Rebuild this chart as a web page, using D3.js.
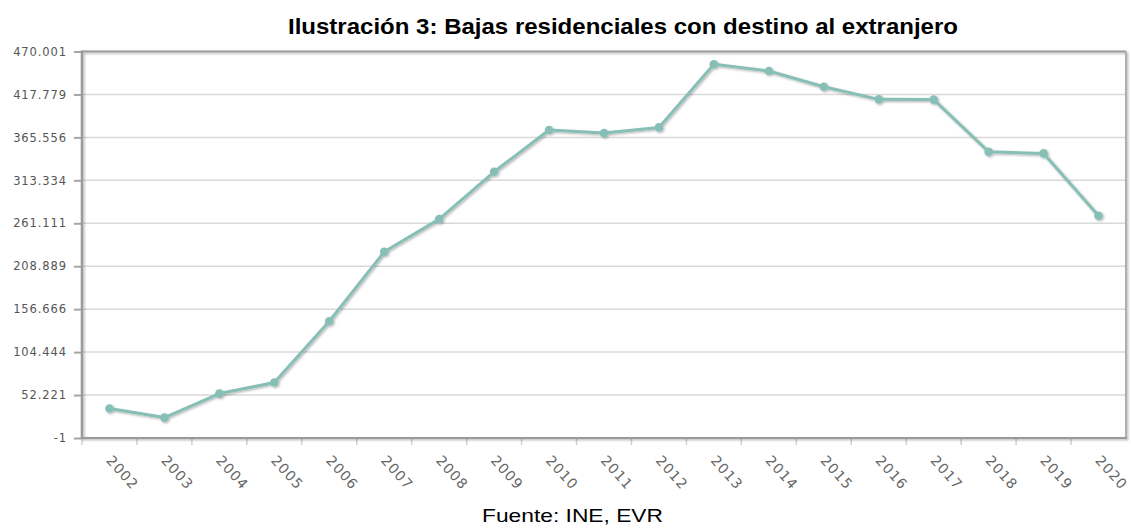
<!DOCTYPE html>
<html>
<head>
<meta charset="utf-8">
<script src="https://cdn.jsdelivr.net/npm/d3@7"></script>
<style>
  body { margin: 0; background: #fff; }
  svg { display: block; }
</style>
</head>
<body>
<svg id="chart" width="1131" height="528"></svg>
<script>
// data
const years = ["2002","2003","2004","2005","2006","2007","2008","2009","2010","2011",
               "2012","2013","2014","2015","2016","2017","2018","2019","2020"];
const bajas = [35800, 24800, 54000, 67400, 142000, 226400, 266200, 323700, 374500, 370800,
               377700, 454400, 446300, 427200, 411800, 411500, 348100, 346100, 270200];
const yMin = -1, yMax = 470001;
const yTicks = d3.range(10).map(i => yMin + i * (yMax - yMin) / 9);

const title = "Ilustración 3: Bajas residenciales con destino al extranjero";
const fuente = "Fuente: INE, EVR";

const W = 1131, H = 528;
const m = {top: 51.5, right: 5, bottom: 90, left: 82};
const iw = W - m.left - m.right, ih = H - m.top - m.bottom;

const svg = d3.select("#chart");
const defs = svg.append("defs");
const f = defs.append("filter").attr("id", "sh").attr("x", "-50%").attr("y", "-50%").attr("width", "200%").attr("height", "200%");
f.append("feDropShadow").attr("dx", 1.2).attr("dy", 1.2).attr("stdDeviation", 1).attr("flood-color", "#000").attr("flood-opacity", 0.3);

const x = d3.scaleBand().domain(years).range([0, iw]);
const y = d3.scaleLinear().domain([yMin, yMax]).range([ih, 0]);
const loc = d3.formatLocale({decimal: ",", thousands: ".", grouping: [3], currency: ["", "€"]});

svg.append("text")
  .attr("x", 288).attr("y", 34)
  .attr("textLength", 670).attr("lengthAdjust", "spacingAndGlyphs")
  .style("font-family", "'Liberation Sans', Arial, sans-serif")
  .style("font-weight", "bold").style("font-size", "22px").style("fill", "#000")
  .text(title);

const g = svg.append("g").attr("transform", `translate(${m.left},${m.top})`);

// grid
g.append("g").selectAll("line").data(yTicks.slice(1, -1)).join("line")
  .attr("x1", 0).attr("x2", iw)
  .attr("y1", d => y(d)).attr("y2", d => y(d))
  .attr("stroke", "#d9d9d9").attr("stroke-width", 1.5);

// y axis
const yAxis = g.append("g")
  .call(d3.axisLeft(y).tickValues(yTicks).tickSize(8).tickPadding(7)
    .tickFormat(d => loc.format(",.0f")(Math.round(d)).replace("−", "-")));
yAxis.select(".domain").remove();
yAxis.selectAll(".tick line").attr("stroke", "#a6a6a6").attr("stroke-width", 2);
yAxis.selectAll(".tick text")
  .style("font-family", "'DejaVu Sans', Verdana, sans-serif").style("font-size", "11.5px")
  .style("letter-spacing", "0.9px").style("fill", "#555");

// x axis
const xAxis = g.append("g").attr("transform", `translate(0,${ih})`)
  .call(d3.axisBottom(x).tickSize(0).tickFormat(d => d));
xAxis.select(".domain").remove();
xAxis.selectAll(".tick text")
  .attr("text-anchor", "start")
  .attr("transform", "translate(-4,23) rotate(48)")
  .attr("y", 0).attr("dy", 0)
  .style("font-family", "'DejaVu Sans', Verdana, sans-serif").style("font-size", "14px")
  .style("letter-spacing", "1.1px").style("fill", "#666");

// ticks at band edges
g.append("g").selectAll("line").data(years).join("line")
  .attr("x1", d => x(d)).attr("x2", d => x(d))
  .attr("y1", ih).attr("y2", ih + 7)
  .attr("stroke", "#cfcfcf").attr("stroke-width", 1.5);

// frame
const frame = g.append("g").attr("filter", "url(#sh)");
frame.append("line").attr("x1", 0).attr("x2", iw).attr("y1", 0).attr("y2", 0).attr("stroke", "#9a9a9a").attr("stroke-width", 2);
frame.append("line").attr("x1", iw).attr("x2", iw).attr("y1", 0).attr("y2", ih).attr("stroke", "#b0b0b0").attr("stroke-width", 2);
frame.append("line").attr("x1", 0).attr("x2", iw + 1).attr("y1", ih).attr("y2", ih).attr("stroke", "#9a9a9a").attr("stroke-width", 2);
frame.append("line").attr("x1", 0).attr("x2", 0).attr("y1", -1).attr("y2", ih + 1).attr("stroke", "#9a9a9a").attr("stroke-width", 2.5);

// line
const cx = d => x(d) + x.bandwidth() / 2;
const line = d3.line().x((d, i) => cx(years[i])).y(d => y(d));
const lg = g.append("g").attr("filter", "url(#sh)");
lg.append("path").datum(bajas).attr("d", line)
  .attr("fill", "none").attr("stroke", "#87bfb7").attr("stroke-width", 3).attr("stroke-linejoin", "round");
lg.selectAll("circle").data(bajas).join("circle")
  .attr("cx", (d, i) => cx(years[i])).attr("cy", d => y(d)).attr("r", 4.3)
  .attr("fill", "#87bfb7");

svg.append("text")
  .attr("x", 482).attr("y", 522)
  .attr("textLength", 181).attr("lengthAdjust", "spacingAndGlyphs")
  .style("font-family", "'Liberation Sans', Arial, sans-serif")
  .style("font-size", "19px").style("fill", "#000")
  .text(fuente);
</script>
</body>
</html>
